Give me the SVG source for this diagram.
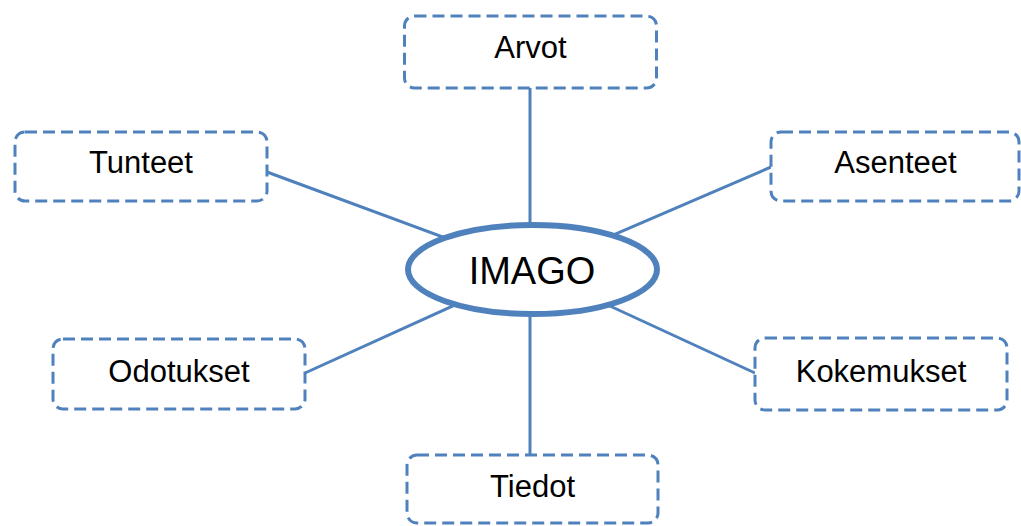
<svg xmlns="http://www.w3.org/2000/svg" width="1021" height="526" viewBox="0 0 1021 526">
<style>
.box{fill:#fff;stroke:#4f81bd;stroke-width:3;stroke-dasharray:12 6}
.lbl{font-family:"Liberation Sans",Arial,sans-serif;font-size:31px;fill:#000;text-anchor:middle}
.conn{stroke:#4f81bd;stroke-width:3;fill:none}
</style>
<rect width="1021" height="526" fill="#fff"/>
<g id="connectors">
<line class="conn" x1="530" y1="88" x2="530" y2="228"/>
<line class="conn" x1="530" y1="312" x2="530" y2="455"/>
<line class="conn" x1="267" y1="172" x2="532" y2="270"/>
<line class="conn" x1="771" y1="167" x2="532" y2="270"/>
<line class="conn" x1="305" y1="373" x2="532" y2="270"/>
<line class="conn" x1="755" y1="373" x2="532" y2="270"/>
</g>
<g id="imago">
<ellipse cx="532.5" cy="269.5" rx="124.5" ry="44.5" fill="#fff" stroke="#4f81bd" stroke-width="6"/>
<text x="532" y="284" class="lbl" style="font-size:38px">IMAGO</text>
</g>
<g id="arvot">
<rect class="box" x="404.5" y="16" width="252" height="72" rx="10"/>
<text x="530.5" y="58" class="lbl">Arvot</text>
</g>
<g id="tunteet">
<rect class="box" x="15" y="132" width="252" height="69" rx="10"/>
<text x="141" y="173" class="lbl">Tunteet</text>
</g>
<g id="asenteet">
<rect class="box" x="771" y="132" width="248" height="69" rx="10"/>
<text x="895.5" y="173" class="lbl">Asenteet</text>
</g>
<g id="odotukset">
<rect class="box" x="53" y="339" width="252" height="70" rx="10"/>
<text x="179" y="382" class="lbl">Odotukset</text>
</g>
<g id="kokemukset">
<rect class="box" x="755" y="338" width="252" height="72" rx="10"/>
<text x="881" y="382" class="lbl">Kokemukset</text>
</g>
<g id="tiedot">
<rect class="box" x="407" y="455" width="251" height="68" rx="10"/>
<text x="532.5" y="497" class="lbl">Tiedot</text>
</g>
</svg>
